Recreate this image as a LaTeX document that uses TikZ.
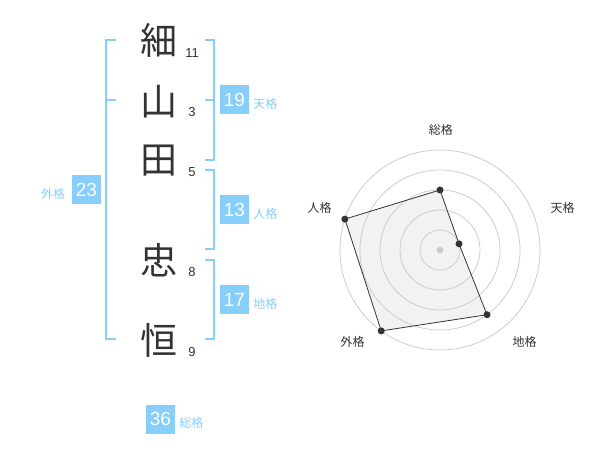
\documentclass[tikz,border=0pt]{standalone}
\usepackage{fontspec}
\setmainfont{Liberation Sans}
\newfontfamily\cjk{Noto Sans CJK JP}
\usetikzlibrary{positioning}
\definecolor{sky}{HTML}{87CEFA}
\definecolor{ink}{HTML}{333333}
\definecolor{ringgray}{HTML}{CCCCCC}
\definecolor{areagray}{HTML}{F2F2F2}
\tikzset{
  kanji/.style={font=\cjk\fontsize{37}{37}\selectfont, text=ink, inner sep=0pt},
  strokes/.style={font=\fontsize{13}{13}\selectfont, text=ink, inner sep=0pt},
  scorebox/.style={fill=sky, text=white, minimum size=29pt, inner sep=0pt, font=\fontsize{19}{19}\selectfont},
  scorename/.style={font=\cjk\fontsize{12}{12}\selectfont, text=sky, inner sep=0pt},
  bracket/.style={draw=sky, line width=2pt},
  ring/.style={draw=ringgray, line width=0.8pt},
  axisname/.style={font=\cjk\fontsize{12}{12}\selectfont, text=ink, inner sep=0pt},
  vertex/.style={circle, fill=ink, inner sep=0pt, minimum size=7pt},
}
\begin{document}
\begin{tikzpicture}[x=1pt,y=-1pt]
\useasboundingbox (0,0) rectangle (600,470);

% name and strokes
\node[kanji] (k1) at (159,40) {細};
\node[kanji] (k2) at (159,102) {山};
\node[kanji] (k3) at (159,161) {田};
\node[kanji] (k4) at (159,260) {忠};
\node[kanji] (k5) at (159,340) {恒};
\node[strokes] (s1) at (192,53) {11};
\node[strokes] (s2) at (192,112.5) {3};
\node[strokes] (s3) at (192,172.5) {5};
\node[strokes] (s4) at (192,272) {8};
\node[strokes] (s5) at (192,352) {9};

% brackets
\draw[bracket] (116,40) -- (106,40) -- (106,339) -- (116,339);
\draw[bracket] (106,100) -- (116,100);
\draw[bracket] (205,40) -- (214,40) -- (214,160) -- (205,160);
\draw[bracket] (205,100) -- (214,100);
\draw[bracket] (205,170) -- (214,170) -- (214,249) -- (205,249);
\draw[bracket] (205,260) -- (214,260) -- (214,339) -- (205,339);

% scores
\node[scorebox] (ten) at (234.5,100) {19};
\node[scorename, right=4pt of ten, yshift=-3.5pt] (tenl) {天格};
\node[scorebox] (jin) at (234.5,210) {13};
\node[scorename, right=4pt of jin, yshift=-3.5pt] (jinl) {人格};
\node[scorebox] (chi) at (234.5,300) {17};
\node[scorename, right=4pt of chi, yshift=-3.5pt] (chil) {地格};
\node[scorebox] (gai) at (86.5,190) {23};
\node[scorename, left=6.5pt of gai, yshift=-3.5pt] (gail) {外格};
\node[scorebox] (sou) at (160.5,419) {36};
\node[scorename, right=4pt of sou, yshift=-3.5pt] (soul) {総格};

% radar
\begin{scope}[shift={(440,250)}, y=1pt]
\coordinate (c1) at (90:60);
\coordinate (c2) at (18:20);
\coordinate (c3) at (-54:80);
\coordinate (c4) at (-126:100);
\coordinate (c5) at (162:100);
\fill[areagray] (c1) -- (c2) -- (c3) -- (c4) -- (c5) -- cycle;
\foreach \r in {20,40,...,100}
  \draw[ring] (0,0) circle (\r);
\node[circle, fill=gray!40, inner sep=0pt, minimum size=7pt] (o) at (0,0) {};
\draw[ink, line width=0.8pt] (c1) -- (c2) -- (c3) -- (c4) -- (c5) -- cycle;
\foreach \i in {1,...,5}
  \node[vertex] (v\i) at (c\i) {};
\node[axisname] (a1) at (0.8,120) {総格};
\node[axisname] (a2) at (122.5,41.7) {天格};
\node[axisname] (a3) at (84.5,-91.7) {地格};
\node[axisname] (a4) at (-87.5,-91.7) {外格};
\node[axisname] (a5) at (-120.5,41.7) {人格};
\end{scope}
\end{tikzpicture}
\end{document}
